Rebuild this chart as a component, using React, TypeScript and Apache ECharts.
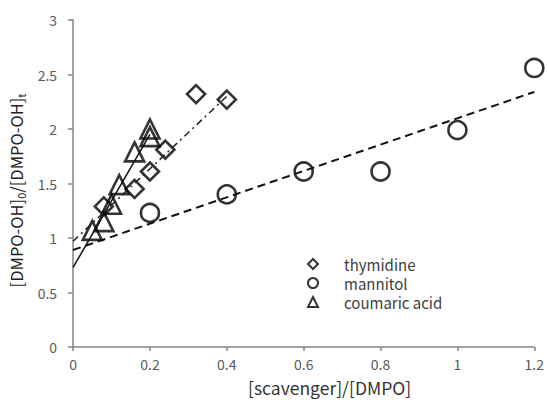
import React, { useEffect, useRef } from "react";
import * as echarts from "echarts";

const thymidineX = [0.08, 0.16, 0.2, 0.24, 0.32, 0.4];
const thymidineY = [1.29, 1.45, 1.61, 1.81, 2.32, 2.27];
const mannitolX = [0.2, 0.4, 0.6, 0.8, 1.0, 1.2];
const mannitolY = [1.23, 1.4, 1.61, 1.61, 1.99, 2.56];
const coumaricX = [0.05, 0.08, 0.1, 0.12, 0.16, 0.2, 0.2];
const coumaricY = [1.07, 1.15, 1.31, 1.49, 1.79, 1.93, 2.0];

const thymidineFitX = [0, 0.4];
const thymidineFitY = [0.97, 2.3];
const mannitolFitX = [0, 1.2];
const mannitolFitY = [0.89, 2.34];
const coumaricFitX = [0, 0.2];
const coumaricFitY = [0.73, 1.95];

const seriesNames = ["thymidine", "mannitol", "coumaric acid"];
const xTicks = [0, 0.2, 0.4, 0.6, 0.8, 1, 1.2];
const yTicks = [0, 0.5, 1, 1.5, 2, 2.5, 3];

const FONT = "'Noto Sans CJK JP', 'Noto Sans', sans-serif";

const zip = (xs: number[], ys: number[]) => xs.map((x, i) => [x, ys[i]]);

export default function App() {
  const ref = useRef<HTMLDivElement>(null);
  useEffect(() => {
    if (!ref.current) return;
    const chart = echarts.init(ref.current, undefined, { renderer: "svg" });
    const markerStyle = { color: "transparent", borderColor: "#000", borderWidth: 2.6 };
    chart.setOption({
      animation: false,
      backgroundColor: "#fff",
      grid: { left: 71, right: 11, top: 20, bottom: 53, containLabel: false },
      xAxis: {
        type: "value",
        min: xTicks[0],
        max: xTicks[xTicks.length - 1],
        interval: 0.2,
        axisLine: { show: true, lineStyle: { color: "#858585", width: 1.5 } },
        axisTick: { show: true, length: 4, lineStyle: { color: "#858585", width: 1.5 } },
        splitLine: { show: false },
        axisLabel: {
          color: "#595959",
          fontSize: 14,
          fontFamily: FONT,
          margin: 10,
          formatter: (v: number) => String(Math.round(v * 10) / 10),
        },
      },
      yAxis: {
        type: "value",
        min: yTicks[0],
        max: yTicks[yTicks.length - 1],
        interval: 0.5,
        axisLine: { show: true, lineStyle: { color: "#858585", width: 1.5 } },
        axisTick: { show: true, length: 5, lineStyle: { color: "#858585", width: 1.5 } },
        splitLine: { show: false },
        axisLabel: { color: "#595959", fontSize: 14, fontFamily: FONT, margin: 16 },
        name: "[DMPO-OH]{s|0}/[DMPO-OH]{s|t}",
        nameLocation: "middle",
        nameRotate: 90,
        nameGap: 41,
        nameTextStyle: {
          fontSize: 16.5,
          color: "#222",
          fontFamily: FONT,
          padding: [0, 14, 0, 0],
          rich: {
            s: { fontSize: 11, fontFamily: FONT, color: "#222", verticalAlign: "bottom", padding: [10, 0, 0, 0] },
          },
        },
      },
      legend: {
        orient: "vertical",
        left: 302,
        top: 250,
        itemWidth: 10,
        itemHeight: 10,
        itemGap: 1,
        data: seriesNames,
        itemStyle: { borderWidth: 2 },
        textStyle: { fontSize: 15, color: "#404040", fontFamily: FONT, lineHeight: 18, padding: [0, 0, 0, 21] },
      },
      graphic: [
        {
          type: "text",
          left: 248,
          top: 379,
          style: { text: "[scavenger]/[DMPO]", fontSize: 17.5, fill: "#333", fontFamily: FONT },
        },
      ],
      series: [
        {
          name: "mannitol fit",
          type: "line",
          data: zip(mannitolFitX, mannitolFitY),
          showSymbol: false,
          symbol: "none",
          lineStyle: { color: "#111", width: 2, type: [8, 5] },
          silent: true,
        },
        {
          name: "thymidine fit",
          type: "line",
          data: zip(thymidineFitX, thymidineFitY),
          showSymbol: false,
          symbol: "none",
          lineStyle: { color: "#222", width: 1.5, type: [7, 4, 2, 4] },
          silent: true,
        },
        {
          name: "coumaric acid fit",
          type: "line",
          data: zip(coumaricFitX, coumaricFitY),
          showSymbol: false,
          symbol: "none",
          lineStyle: { color: "#111", width: 1.5, type: "solid" },
          silent: true,
        },
        {
          name: seriesNames[0],
          type: "scatter",
          symbol: "diamond",
          symbolSize: [18, 18],
          data: zip(thymidineX, thymidineY),
          itemStyle: markerStyle,
        },
        {
          name: seriesNames[1],
          type: "scatter",
          symbol: "circle",
          symbolSize: 18,
          data: zip(mannitolX, mannitolY),
          itemStyle: markerStyle,
        },
        {
          name: seriesNames[2],
          type: "scatter",
          symbol: "triangle",
          symbolSize: [19, 19],
          data: zip(coumaricX, coumaricY),
          itemStyle: markerStyle,
        },
      ],
    });
    return () => chart.dispose();
  }, []);
  return <div ref={ref} style={{ width: 547, height: 400, position: "absolute", left: 0, top: 0 }} />;
}
